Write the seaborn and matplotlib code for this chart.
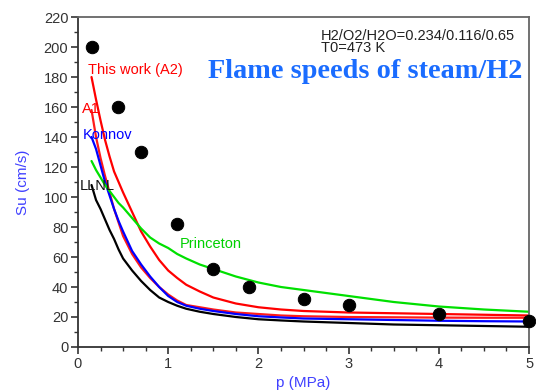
import pandas as pd
import matplotlib
matplotlib.use("Agg")
import matplotlib.pyplot as plt
import seaborn as sns
from matplotlib.ticker import MultipleLocator

# --- data ---
p_grid = [0.15, 0.2, 0.25, 0.3, 0.35, 0.4, 0.45, 0.5, 0.6, 0.7, 0.8, 0.9,
          1.0, 1.1, 1.2, 1.35, 1.5, 1.75, 2.0, 2.25, 2.5, 3.0, 3.5, 4.0,
          4.5, 5.0]

su_a2 = [180, 165, 151, 138, 127, 117, 110, 103, 90, 77, 67, 58,
         51, 46, 41.5, 37, 33, 29, 26.5, 25, 24, 23, 22.5, 22, 21.5, 21]
su_a1 = [158, 140, 126, 114, 103, 92, 83, 74, 62, 53, 46, 40,
         35, 31, 28, 26.5, 25, 23, 22, 21, 20.5, 20, 19.8, 19.6, 19.5, 19.5]
su_konnov = [140, 132, 121, 110, 101, 92, 84, 77, 64, 55, 47, 40,
             34, 30, 27.5, 25.5, 24, 22, 20.5, 19.7, 19, 18.5, 18, 17.5,
             17.2, 17]
su_llnl = [108, 98, 92, 85, 78, 72, 65, 59, 51, 44, 38, 33,
           30, 27.5, 25.5, 23.5, 22, 20, 18.5, 17.7, 17, 16, 15, 14.5,
           14, 13.5]
su_princeton = [124, 118, 113, 108, 104, 100, 96, 93, 86, 79, 73, 69,
                66, 62, 59, 55, 52, 47, 43, 40, 38, 34, 30, 27, 25, 23.5]

exp_p = [0.15, 0.44, 0.7, 1.1, 1.5, 1.9, 2.5, 3.0, 4.0, 5.0]
exp_su = [200, 160, 130, 82, 52, 40, 32, 28, 22, 17]

models = ["This work (A2)", "A1", "Konnov", "LLNL", "Princeton"]
model_values = [su_a2, su_a1, su_konnov, su_llnl, su_princeton]
model_colors = ["#ff0000", "#ff1a1a", "#0000ff", "#000000", "#00e000"]

rows = []
for name, vals in zip(models, model_values):
    for p, v in zip(p_grid, vals):
        rows.append({"p": p, "Su": v, "model": name})
df = pd.DataFrame(rows)
exp_df = pd.DataFrame({"p": exp_p, "Su": exp_su})

# --- plotting ---
sns.set_style("ticks")
plt.rcParams['font.family'] = ['Liberation Sans', 'DejaVu Sans']

fig = plt.figure(figsize=(5.36, 3.92), dpi=100)
ax = fig.add_axes([0.1455, 0.1148, 0.8415, 0.8418])

sns.lineplot(data=df, x="p", y="Su", hue="model", hue_order=models,
             palette=dict(zip(models, model_colors)), linewidth=1.6,
             legend=False, ax=ax, sort=False, estimator=None)
sns.scatterplot(data=exp_df, x="p", y="Su", color="black", s=80,
                edgecolor="black", zorder=5, ax=ax, clip_on=False)

ax.set_xlim(0, 5)
ax.set_ylim(0, 220)
ax.xaxis.set_major_locator(MultipleLocator(1))
ax.xaxis.set_minor_locator(MultipleLocator(0.25))
ax.yaxis.set_major_locator(MultipleLocator(20))
ax.yaxis.set_minor_locator(MultipleLocator(10))
ax.tick_params(which="major", direction="out", length=5, width=1.2,
               labelsize=10.5, labelcolor="#333333", color="#333333", pad=2)
ax.tick_params(which="minor", direction="out", length=3, width=1.0,
               color="#333333")

for side in ["left", "bottom"]:
    ax.spines[side].set_color("#333333")
    ax.spines[side].set_linewidth(1.3)
for side in ["top", "right"]:
    ax.spines[side].set_visible(True)
    ax.spines[side].set_color("#666666")
    ax.spines[side].set_linewidth(1.3)

ax.set_xlabel("p (MPa)", color="#4040ff", fontsize=11, labelpad=4)
ax.set_ylabel("Su (cm/s)", color="#4040ff", fontsize=11, labelpad=10)

# curve labels
ax.text(0.11, 182, "This work (A2)", color="#ff0000", fontsize=10.5)
ax.text(0.04, 156, "A1", color="#ff0000", fontsize=10.5)
ax.text(0.05, 139, "Konnov", color="#0000ff", fontsize=10.5)
ax.text(0.02, 105, "LLNL", color="#111111", fontsize=10.5)
ax.text(1.13, 66, "Princeton", color="#00d000", fontsize=10.5)

# annotations
ax.text(2.69, 205, "H2/O2/H2O=0.234/0.116/0.65", color="#222222",
        fontsize=10.5)
ax.text(2.69, 196.5, "T0=473 K", color="#222222", fontsize=10.5)
ax.text(4.93, 184, "Flame speeds of steam/H2", color="#1a6cff",
        fontsize=20.3, fontweight="bold", family="Liberation Serif",
        ha="right", va="center")

fig.savefig("out.png", dpi=100)
